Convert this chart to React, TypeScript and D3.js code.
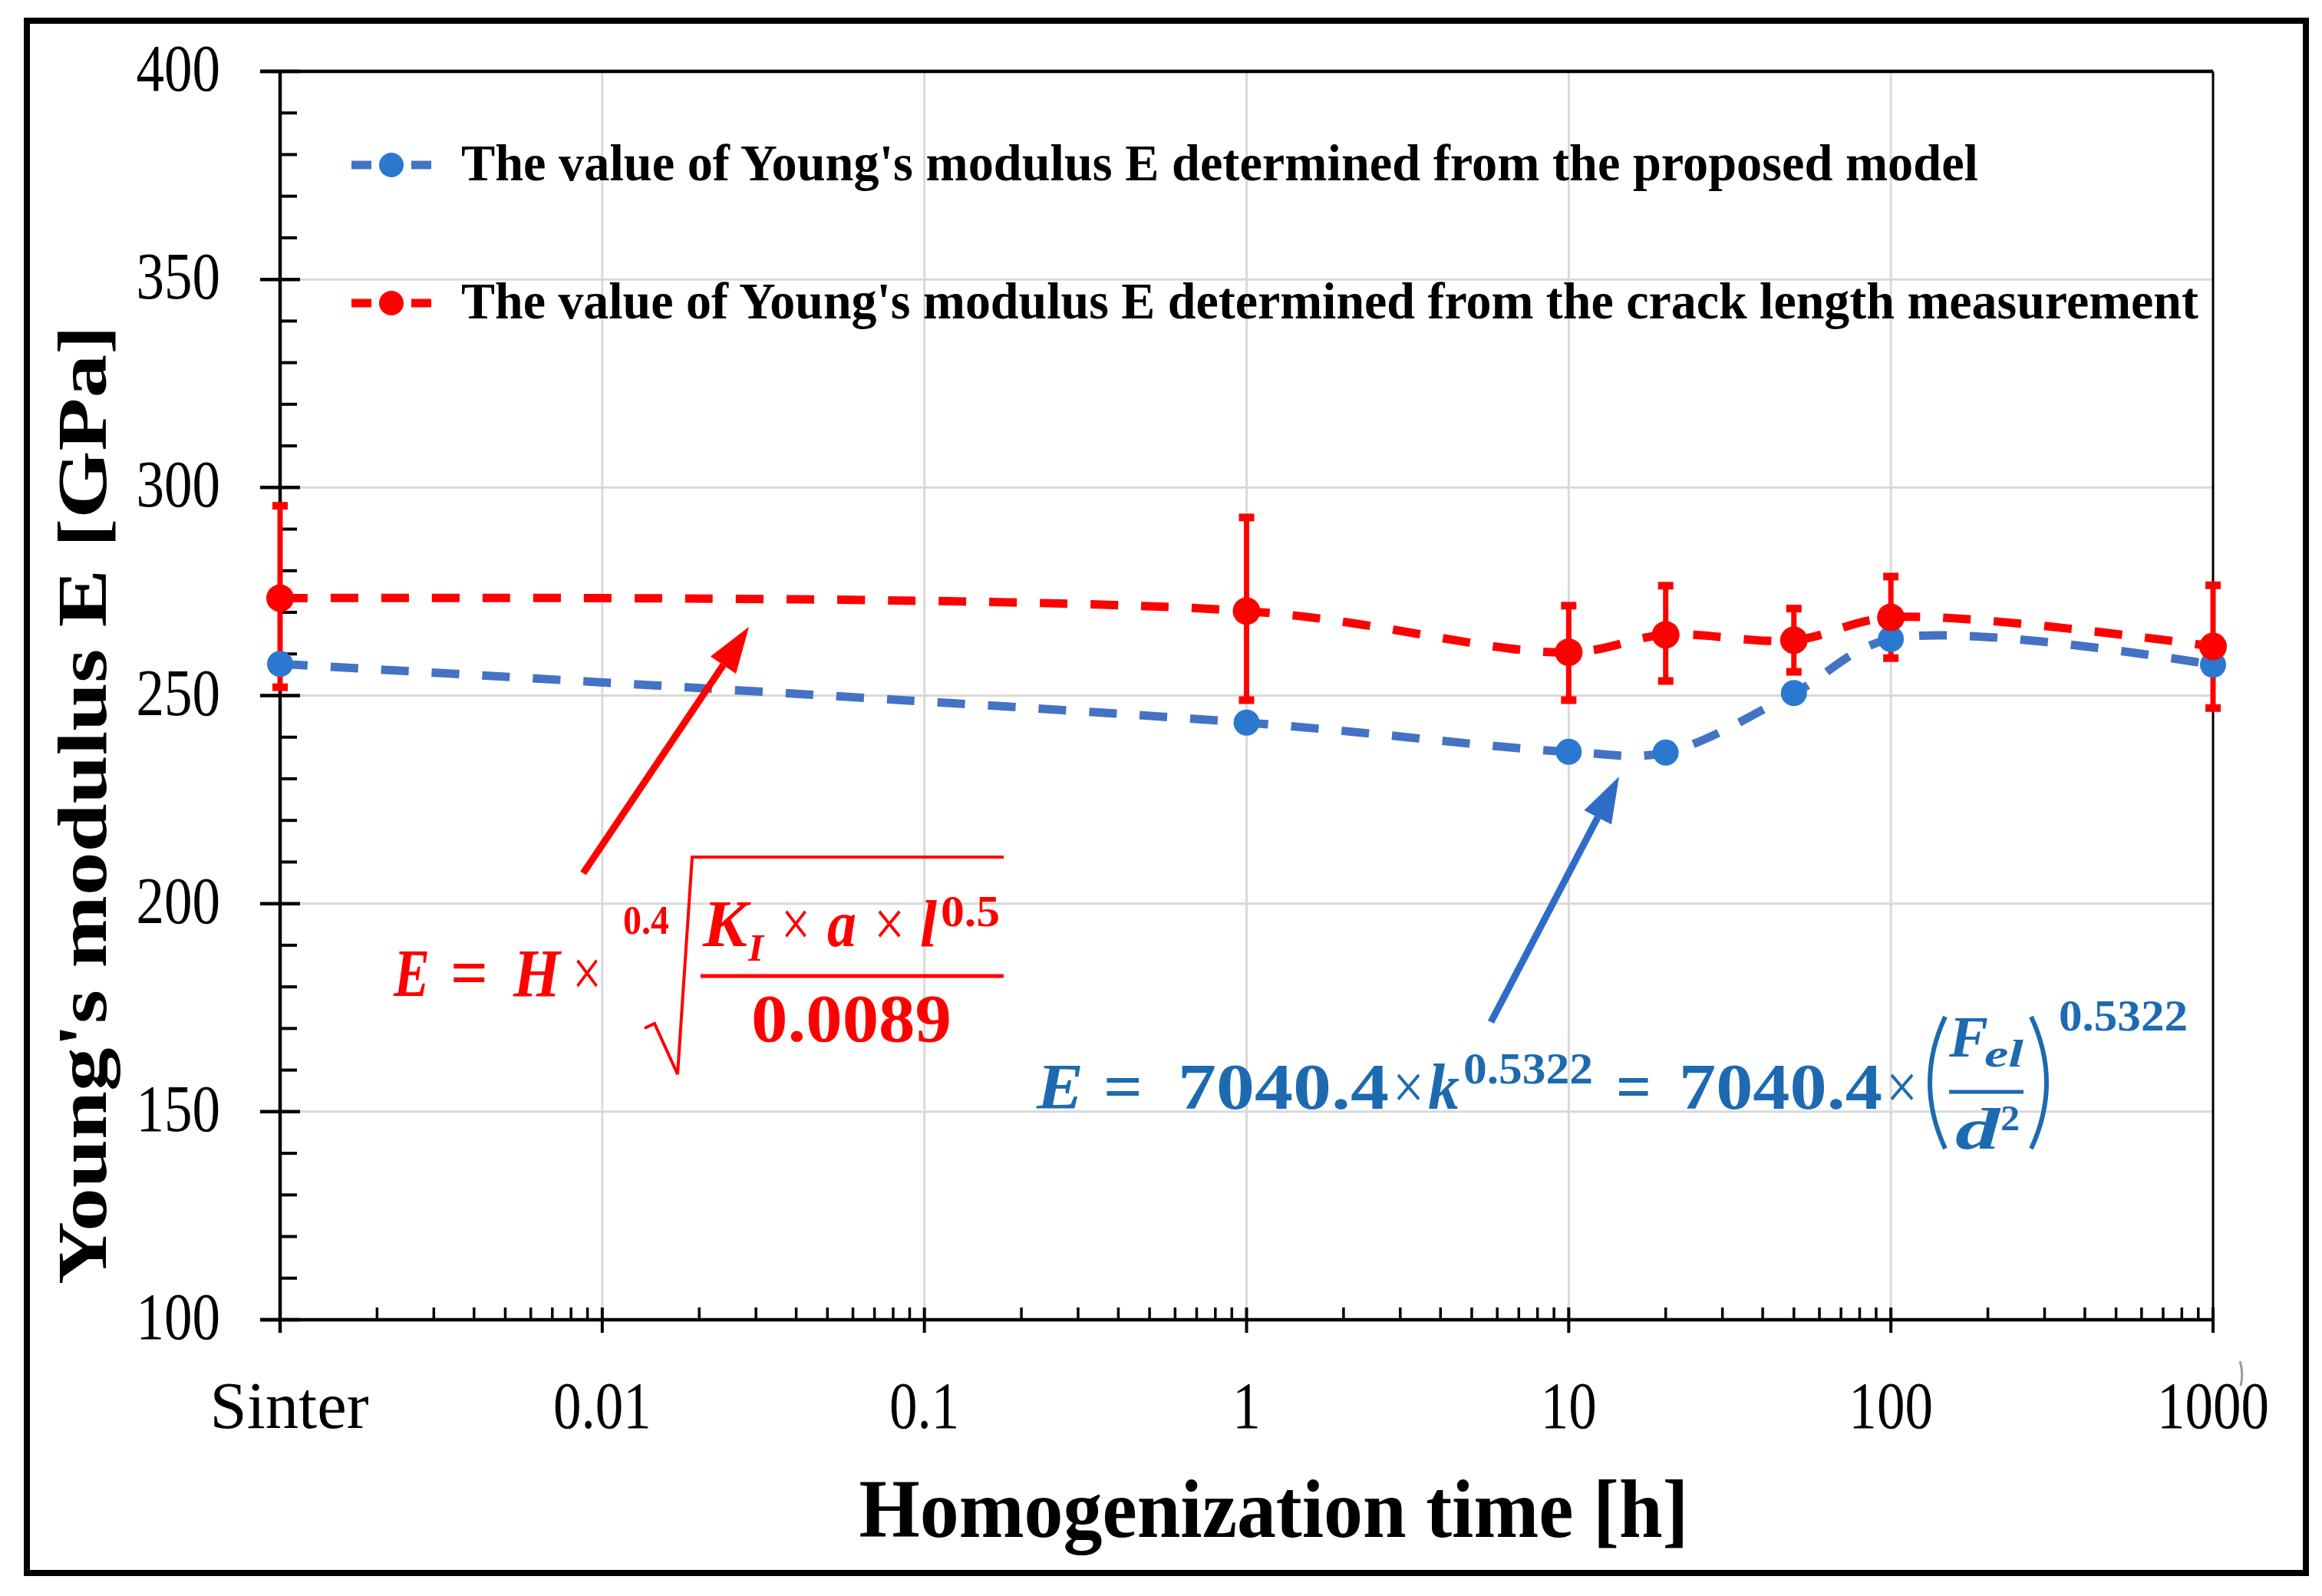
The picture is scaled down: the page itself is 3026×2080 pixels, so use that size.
import * as d3 from 'd3';

// Homogenization time [h]; the "Sinter" state is plotted at 0.001 h
const timeH = [0.001, 1, 10, 20, 50, 100, 1000];
const modelE = [257.6, 243.5, 236.5, 236.3, 250.6, 263.6, 257.4];
const crackE = [273.4, 270.3, 260.4, 264.6, 263.3, 268.8, 261.8];
const crackHigh = [295.6, 292.8, 271.6, 276.4, 270.9, 278.6, 276.5];
const crackLow = [252.0, 248.9, 248.9, 253.5, 255.7, 259.0, 247.0];

const yTicks = [100, 150, 200, 250, 300, 350, 400];
const xTicks = [0.001, 0.01, 0.1, 1, 10, 100, 1000];
const xTickLabels = ['Sinter', '0.01', '0.1', '1', '10', '100', '1000'];

const legendLabels = [
  "The value of Young's modulus E determined from the proposed model",
  "The value of Young's modulus E determined from the crack length measurement",
];

const W = 3026;
const H = 2080;
const FONT = '"Liberation Serif", "Times New Roman", serif';
const RED = '#FF0000';
const BLUE_LINE = '#4472C4';
const BLUE_DOT = '#2B78D0';
const BLUE_TXT = '#1D6AB0';

const x = d3.scaleLog().domain([0.001, 1000]).range([365, 2884]);
const y = d3.scaleLinear().domain([100, 400]).range([1720, 93]);

const line = d3
  .line<number>()
  .x((_, i) => x(timeH[i]))
  .y((d) => y(d))
  .curve(d3.curveCatmullRom.alpha(0.5));

// minor ticks
const minorX: number[] = [];
for (let e = -3; e < 3; e++) {
  for (let m = 2; m <= 9; m++) minorX.push(m * Math.pow(10, e));
}
const minorY = d3.range(110, 400, 10).filter((v) => v % 50 !== 0);

const Piece = ({ x, y, s, w, it = false, bold = true, fill, children, anchor = 'start' }: any) => (
  <text
    x={x}
    y={y}
    fontSize={s}
    fontFamily={FONT}
    fontStyle={it ? 'italic' : 'normal'}
    fontWeight={bold ? 'bold' : 'normal'}
    fill={fill}
    textAnchor={anchor}
    textLength={w}
    lengthAdjust="spacingAndGlyphs"
  >
    {children}
  </text>
);

const Arrow = ({ x1, y1, x2, y2, color }: any) => {
  const a = Math.atan2(y2 - y1, x2 - x1);
  const len = 60;
  const half = 20;
  const bx = x2 - len * Math.cos(a);
  const by = y2 - len * Math.sin(a);
  const px = -Math.sin(a) * half;
  const py = Math.cos(a) * half;
  return (
    <g>
      <line x1={x1} y1={y1} x2={bx} y2={by} stroke={color} strokeWidth={9} />
      <path d={`M${x2},${y2}L${bx + px},${by + py}L${bx - px},${by - py}Z`} fill={color} />
    </g>
  );
};

export default function App() {
  const left = x(0.001);
  const right = x(1000);
  const top = y(400);
  const bottom = y(100);

  return (
    <svg
      width={W}
      height={H}
      style={{ position: 'absolute', left: 0, top: 0, background: '#fff' }}
    >
      <rect x={0} y={0} width={W} height={H} fill="#fff" />
      {/* outer frame */}
      <rect x={35} y={27} width={2970} height={2023} fill="none" stroke="#000" strokeWidth={8} />

      {/* grid */}
      {yTicks.slice(1, -1).map((v) => (
        <line key={'gy' + v} x1={left} x2={right} y1={y(v)} y2={y(v)} stroke="#D9D9D9" strokeWidth={3} />
      ))}
      {xTicks.slice(1, -1).map((v) => (
        <line key={'gx' + v} x1={x(v)} x2={x(v)} y1={top} y2={bottom} stroke="#D9D9D9" strokeWidth={3} />
      ))}

      {/* plot box */}
      <line x1={left - 26} x2={right} y1={top} y2={top} stroke="#000" strokeWidth={4.5} />
      <line x1={right} x2={right} y1={top} y2={bottom} stroke="#000" strokeWidth={3} />
      <line x1={left} x2={left} y1={top} y2={bottom + 17} stroke="#000" strokeWidth={4.5} />
      <line x1={left - 26} x2={right} y1={bottom} y2={bottom} stroke="#000" strokeWidth={4.5} />

      {/* y ticks */}
      {yTicks.map((v) => (
        <line key={'ty' + v} x1={left - 26} x2={left + 26} y1={y(v)} y2={y(v)} stroke="#000" strokeWidth={4.5} />
      ))}
      {minorY.map((v) => (
        <line key={'my' + v} x1={left} x2={left + 22} y1={y(v)} y2={y(v)} stroke="#000" strokeWidth={4} />
      ))}
      {/* x ticks */}
      {xTicks.map((v) => (
        <line key={'tx' + v} x1={x(v)} x2={x(v)} y1={bottom - 16} y2={bottom + 17} stroke="#000" strokeWidth={4} />
      ))}
      {minorX.map((v) => (
        <line key={'mx' + v} x1={x(v)} x2={x(v)} y1={bottom - 16} y2={bottom} stroke="#000" strokeWidth={3.5} />
      ))}

      {/* tick labels */}
      {yTicks.map((v) => (
        <text
          key={'ly' + v}
          transform={`translate(287,${y(v) + 25}) scale(0.84,1)`}
          fontSize={87}
          fontFamily={FONT}
          textAnchor="end"
        >
          {v}
        </text>
      ))}
      {xTicks.map((v, i) =>
        i === 0 ? (
          <text
            key={'lx' + v}
            x={x(v) + 12}
            y={1861}
            fontSize={87}
            fontFamily={FONT}
            textAnchor="middle"
            textLength={207}
            lengthAdjust="spacingAndGlyphs"
          >
            {xTickLabels[i]}
          </text>
        ) : (
          <text
            key={'lx' + v}
            transform={`translate(${x(v)},1861) scale(0.84,1)`}
            fontSize={87}
            fontFamily={FONT}
            textAnchor="middle"
          >
            {xTickLabels[i]}
          </text>
        )
      )}
      {/* small stray mark beside the last label */}
      <path d="M2919,1774 Q2924,1790 2920,1806" fill="none" stroke="#9A9A9A" strokeWidth={3} />

      {/* axis titles */}
      <text
        x={1660}
        y={2003}
        fontSize={107}
        fontFamily={FONT}
        fontWeight="bold"
        textAnchor="middle"
        textLength={1081}
        lengthAdjust="spacingAndGlyphs"
      >
        Homogenization time [h]
      </text>
      <text
        transform="translate(138,1049) rotate(-90)"
        fontSize={92}
        fontFamily={FONT}
        fontWeight="bold"
        textAnchor="middle"
        textLength={1250}
        lengthAdjust="spacingAndGlyphs"
      >
        Young's modulus E [GPa]
      </text>

      {/* series lines */}
      <path d={line(modelE) || ''} fill="none" stroke={BLUE_LINE} strokeWidth={11} strokeDasharray="36 30" />
      <path d={line(crackE) || ''} fill="none" stroke={RED} strokeWidth={11} strokeDasharray="36 30" />

      {/* error bars */}
      {timeH.map((t, i) => (
        <g key={'eb' + i}>
          <line x1={x(t)} x2={x(t)} y1={y(crackHigh[i])} y2={y(crackLow[i])} stroke={RED} strokeWidth={7} />
          <line x1={x(t) - 10} x2={x(t) + 10} y1={y(crackHigh[i])} y2={y(crackHigh[i])} stroke={RED} strokeWidth={10} />
          <line x1={x(t) - 10} x2={x(t) + 10} y1={y(crackLow[i])} y2={y(crackLow[i])} stroke={RED} strokeWidth={10} />
        </g>
      ))}

      {/* markers */}
      {timeH.map((t, i) => (
        <circle key={'mb' + i} cx={x(t)} cy={y(modelE[i])} r={17} fill={BLUE_DOT} />
      ))}
      {timeH.map((t, i) => (
        <circle key={'mr' + i} cx={x(t)} cy={y(crackE[i])} r={18} fill={RED} />
      ))}

      {/* legend */}
      {legendLabels.map((lab, i) => {
        const cy = i === 0 ? 215 : 395;
        const c = i === 0 ? BLUE_LINE : RED;
        const dot = i === 0 ? BLUE_DOT : RED;
        return (
          <g key={'lg' + i}>
            <line x1={458} x2={562} y1={cy} y2={cy} stroke={c} strokeWidth={11} strokeDasharray="26 14 24 14 26" />
            <circle cx={510} cy={cy} r={16} fill={dot} />
            <text
              x={601}
              y={cy + 20}
              fontSize={68}
              fontFamily={FONT}
              fontWeight="bold"
              textLength={i === 0 ? 1977 : 2264}
              lengthAdjust="spacingAndGlyphs"
            >
              {lab}
            </text>
          </g>
        );
      })}

      {/* arrows */}
      <Arrow x1={760} y1={1138} x2={976} y2={817} color={RED} />
      <Arrow x1={1943} y1={1332} x2={2110} y2={1012} color="#2F6CC6" />

      {/* red formula */}
      <g>
        <Piece x={513} y={1298} s={88} w={47} it fill={RED}>E</Piece>
        <Piece x={587} y={1298} s={88} w={49} fill={RED}>=</Piece>
        <Piece x={669} y={1298} s={88} w={61} it fill={RED}>H</Piece>
        <Piece x={746} y={1298} s={88} w={38} bold={false} fill={RED}>×</Piece>
        <Piece x={812} y={1217} s={52} w={60} fill={RED}>0.4</Piece>
        <path d="M840,1340 L853,1334 L883,1400 L902,1117 L1308,1117" fill="none" stroke={RED} strokeWidth={4} />
        <Piece x={916} y={1233} s={86} w={58} it fill={RED}>K</Piece>
        <Piece x={975} y={1252} s={50} w={20} it fill={RED}>I</Piece>
        <Piece x={1018} y={1233} s={86} w={38} bold={false} fill={RED}>×</Piece>
        <Piece x={1078} y={1233} s={86} w={38} it fill={RED}>a</Piece>
        <Piece x={1139} y={1233} s={86} w={40} bold={false} fill={RED}>×</Piece>
        <Piece x={1199} y={1233} s={86} w={22} it fill={RED}>l</Piece>
        <Piece x={1226} y={1207} s={56} w={77} fill={RED}>0.5</Piece>
        <line x1={913} x2={1308} y1={1272} y2={1272} stroke={RED} strokeWidth={5} />
        <Piece x={979} y={1357} s={89} w={261} fill={RED}>0.0089</Piece>
      </g>

      {/* blue formula */}
      <g>
        <Piece x={1351} y={1445} s={84} w={61} it fill={BLUE_TXT}>E</Piece>
        <Piece x={1438} y={1445} s={84} w={51} fill={BLUE_TXT}>=</Piece>
        <Piece x={1535} y={1445} s={84} w={275} fill={BLUE_TXT}>7040.4</Piece>
        <Piece x={1815} y={1445} s={84} w={41} bold={false} fill={BLUE_TXT}>×</Piece>
        <Piece x={1861} y={1445} s={84} w={41} it fill={BLUE_TXT}>k</Piece>
        <Piece x={1907} y={1412} s={58} w={169} fill={BLUE_TXT}>0.5322</Piece>
        <Piece x={2106} y={1445} s={84} w={46} fill={BLUE_TXT}>=</Piece>
        <Piece x={2188} y={1445} s={84} w={265} fill={BLUE_TXT}>7040.4</Piece>
        <Piece x={2458} y={1445} s={84} w={41} bold={false} fill={BLUE_TXT}>×</Piece>
        <path d="M2535,1325 Q2495,1411 2535,1497" fill="none" stroke={BLUE_TXT} strokeWidth={6} />
        <Piece x={2540} y={1377} s={76} w={51} it fill={BLUE_TXT}>F</Piece>
        <Piece x={2586} y={1390} s={50} w={51} it fill={BLUE_TXT}>el</Piece>
        <line x1={2540} x2={2637} y1={1423} y2={1423} stroke={BLUE_TXT} strokeWidth={5} />
        <Piece x={2548} y={1497} s={76} w={58} it fill={BLUE_TXT}>d</Piece>
        <Piece x={2607} y={1473} s={46} w={25} fill={BLUE_TXT}>2</Piece>
        <path d="M2647,1325 Q2687,1411 2647,1497" fill="none" stroke={BLUE_TXT} strokeWidth={6} />
        <Piece x={2683} y={1343} s={58} w={168} fill={BLUE_TXT}>0.5322</Piece>
      </g>
    </svg>
  );
}
